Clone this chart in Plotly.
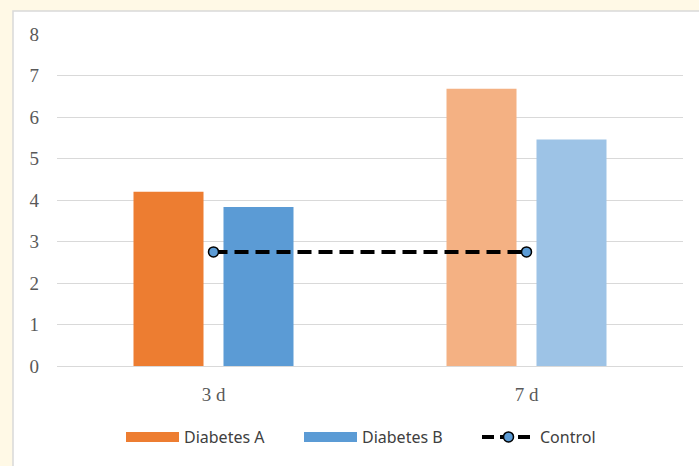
import plotly.graph_objects as go

categories = ["3 d", "7 d"]
diabetes_a = [4.2, 6.68]
diabetes_b = [3.83, 5.46]
control = [2.75, 2.75]

colors_a = ["#ED7D31", "#F4B183"]
colors_b = ["#5B9BD5", "#9DC3E6"]

control_line = dict(color="black", width=4, dash="14px,7px")
control_marker = dict(size=10, color="#5B9BD5", line=dict(color="black", width=1.5))

fig = go.Figure()

fig.add_trace(go.Bar(x=categories, y=diabetes_a, name="Diabetes A",
                     marker=dict(color=colors_a, line=dict(width=0)),
                     showlegend=False))
fig.add_trace(go.Bar(x=categories, y=diabetes_b, name="Diabetes B",
                     marker=dict(color=colors_b, line=dict(width=0)),
                     showlegend=False))
fig.add_trace(go.Scatter(x=categories, y=control, name="Control",
                         mode="lines+markers", line=control_line,
                         marker=control_marker, showlegend=False))

# wide legend swatches
fig.add_trace(go.Scatter(x=[None], y=[None], name="Diabetes A", mode="lines",
                         line=dict(color="#ED7D31", width=10)))
fig.add_trace(go.Scatter(x=[None], y=[None], name="Diabetes B", mode="lines",
                         line=dict(color="#5B9BD5", width=10)))
fig.add_trace(go.Scatter(x=[None], y=[None], name="Control", mode="lines+markers",
                         line=dict(color="black", width=4, dash="12px,6px"),
                         marker=control_marker))

L, R, T, B = 57, 16, 34, 100
W, H = 699, 466
pw, ph = W - L - R, H - T - B

fig.add_shape(type="rect", xref="paper", yref="paper", layer="below",
              x0=(13 - L) / pw, x1=(W + 5 - L) / pw,
              y0=-(H + 5 - T - ph) / ph, y1=(H - B - 11) / ph,
              fillcolor="white", line=dict(color="#D9D9D9", width=1.5))

tick_font = dict(family="Liberation Serif", size=19, color="#595959")

fig.update_layout(
    width=W, height=H,
    margin=dict(l=L, r=R, t=T, b=B),
    paper_bgcolor="#FFF9E6",
    plot_bgcolor="white",
    barmode="group",
    bargap=0.425,
    bargroupgap=0.222,
    font=dict(family="Liberation Serif", color="#595959", size=19),
    xaxis=dict(showgrid=False, showline=True, linecolor="#D9D9D9", linewidth=1,
               ticks="", ticklabelstandoff=11, tickfont=tick_font),
    yaxis=dict(range=[0, 8], dtick=1, showgrid=True, gridcolor="#D9D9D9", gridwidth=1,
               zeroline=False, showline=False, ticks="", ticklabelstandoff=17,
               tickfont=tick_font),
    legend=dict(orientation="h", x=0.5 + 18 / pw, xanchor="center", y=-(437 - 366) / ph,
                yanchor="middle", itemwidth=53, traceorder="normal",
                entrywidth=110, entrywidthmode="pixels",
                font=dict(family="Noto Sans", size=16, color="#404040"),
                bgcolor="rgba(0,0,0,0)"),
)

fig.write_html("out.html")
